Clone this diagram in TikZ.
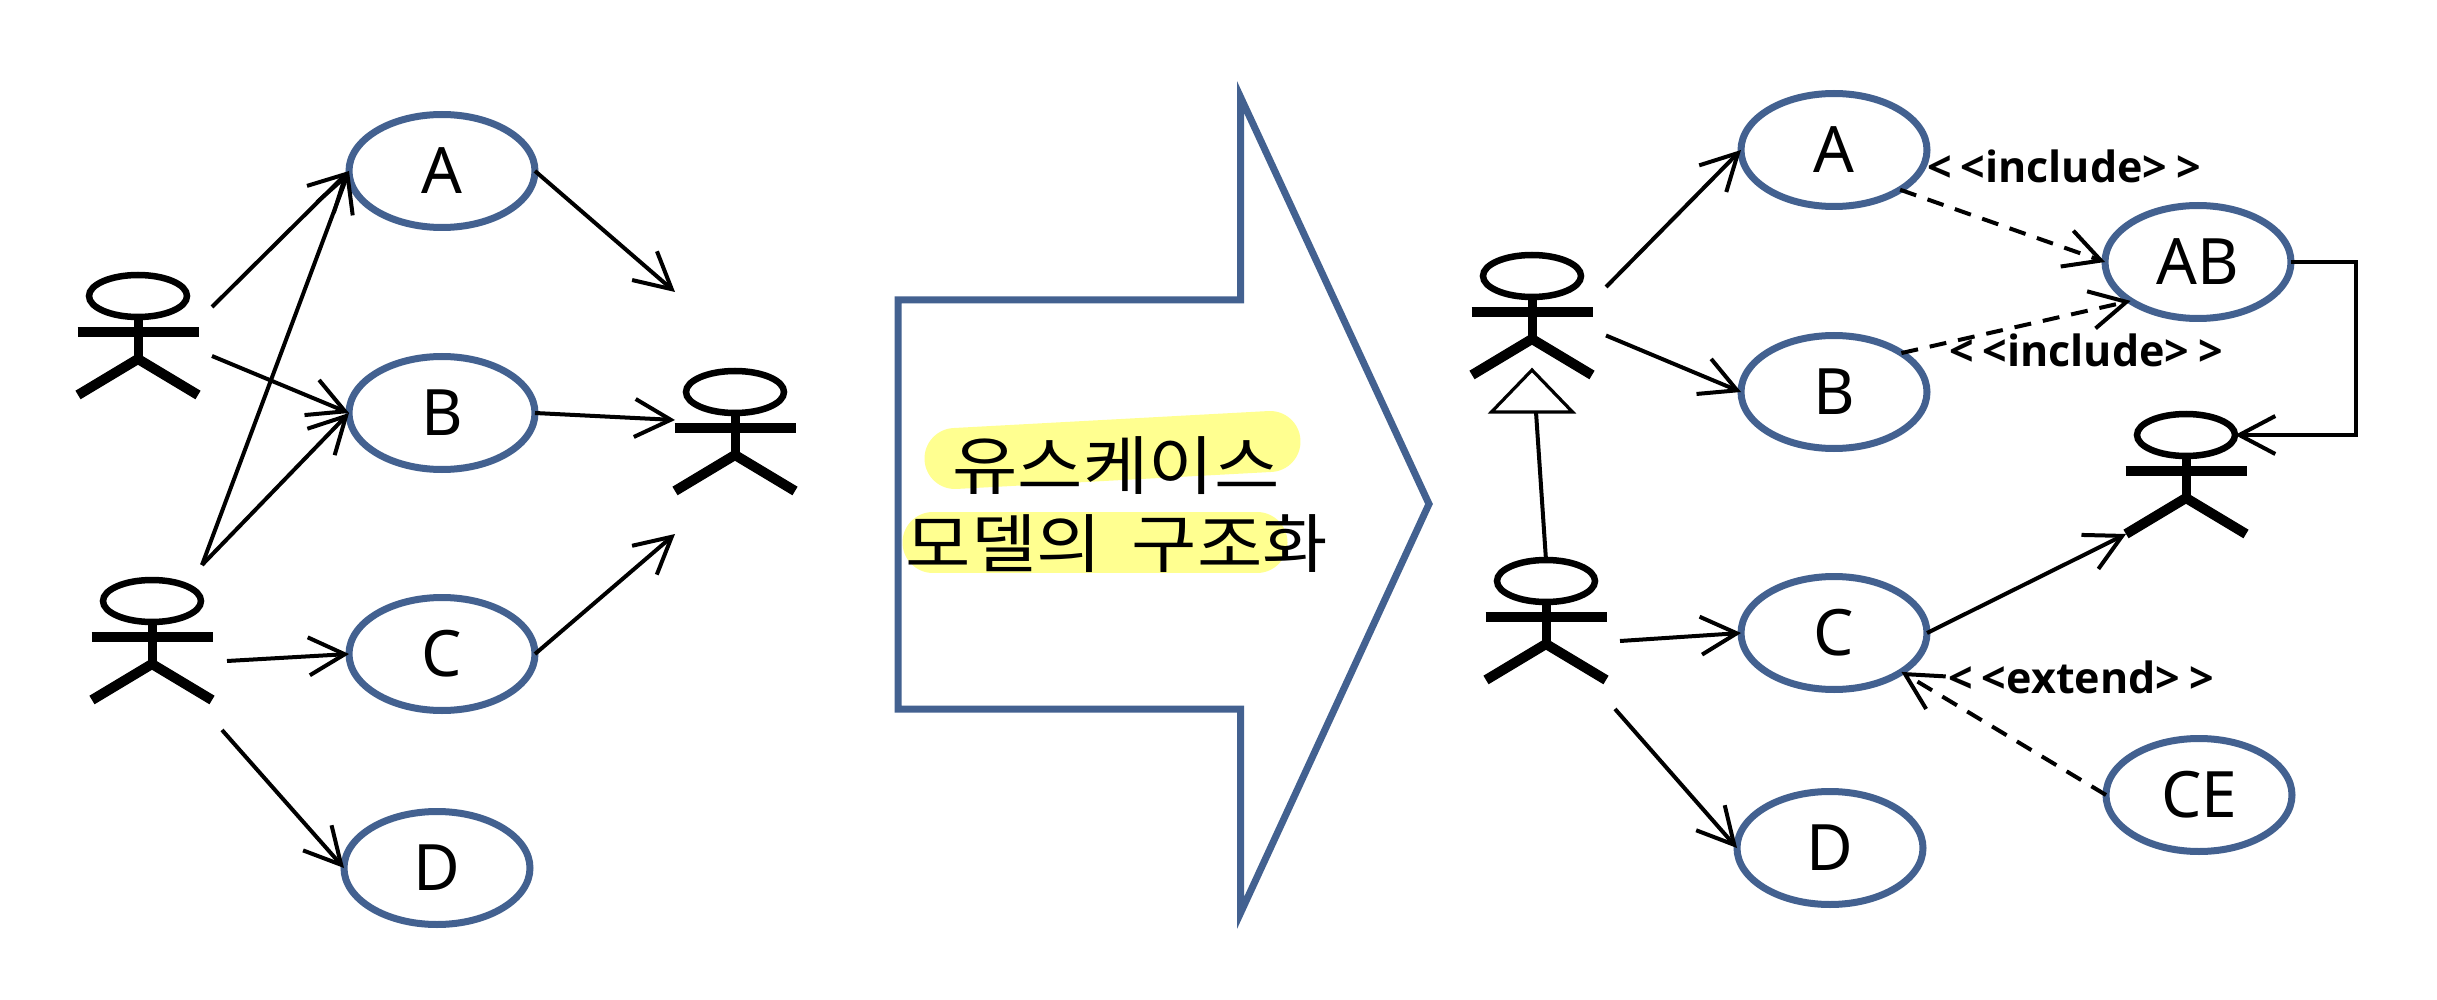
\documentclass[tikz,border=0pt]{standalone}
\usepackage{fontspec}
\usetikzlibrary{arrows.meta,shapes.geometric}
\setmainfont{Noto Sans}
\newfontfamily\krfont[FakeStretch=1.11]{Noto Sans CJK KR}
\newfontfamily\stereofont{Open Sans}
\definecolor{ublue}{HTML}{436190}
\definecolor{hilite}{HTML}{FFFF90}
\tikzset{
  usecase/.style={ellipse,draw=ublue,line width=7pt,minimum width=186pt,minimum height=113pt,inner sep=0pt,outer sep=0pt,font=\fontsize{64}{64}\selectfont},
  actorhead/.style={ellipse,draw=black,line width=6.5pt,minimum width=98pt,minimum height=42pt,inner sep=0pt,outer sep=0pt},
  actorbody/.style={draw=black,line width=9pt},
  actorarm/.style={draw=black,line width=10pt},
  actorleg/.style={draw=black,line width=10pt,line join=miter},
  assoc/.style={draw=black,line width=4pt,-{Straight Barb[length=36pt,width=38pt,line width=4pt]}},
  depend/.style={assoc,dash pattern=on 17pt off 12pt},
  stereo/.style={font=\fontsize{43}{43}\stereofont\bfseries,inner sep=0pt},
  blockarrow/.style={draw=ublue,line width=7pt,fill=white,line join=miter,miter limit=20},
  marker/.style={draw=hilite,line width=61pt,line cap=round},
  krtext/.style={font=\fontsize{64}{64}\krfont,inner sep=0pt},
}
\newcommand{\actorfig}[3]{%
  \begin{scope}[shift={(#2,#3)}]
    \node[actorhead] (#1) at (0,0) {};
    \coordinate (#1-waist) at (0,63);
    \coordinate (#1-neck) at (0,36);
    \coordinate (#1-armL) at (-60.5,36);
    \coordinate (#1-armR) at (60.5,36);
    \coordinate (#1-legL) at (-60,99);
    \coordinate (#1-legR) at (60,99);
    \path[actorbody] (#1.south) -- (#1-waist);
    \path[actorarm] (#1-armL) -- (#1-armR);
    \path[actorleg] (#1-legL) -- (#1-waist) -- (#1-legR);
  \end{scope}}
\begin{document}
\begin{tikzpicture}[x=1pt,y=-1pt]
\useasboundingbox (0,0) rectangle (2437,1000);
% block arrow
\coordinate (ba1) at (898,300);
\coordinate (ba2) at (1240.5,300);
\coordinate (ba3) at (1240.5,97);
\coordinate (ba4) at (1429,504);
\coordinate (ba5) at (1240.5,913);
\coordinate (ba6) at (1240.5,709);
\coordinate (ba7) at (898,709);
\path[blockarrow] (ba1) -- (ba2) -- (ba3) -- (ba4) -- (ba5) -- (ba6) -- (ba7) -- cycle;
\coordinate (m1a) at (955,458.5);
\coordinate (m1b) at (1270,441.5);
\coordinate (m2a) at (933,542.5);
\coordinate (m2b) at (1257,542.5);
\path[marker] (m1a) -- (m1b);
\path[marker] (m2a) -- (m2b);
\node[krtext] (t1) at (1116,466) {유스케이스};
\node[krtext] (t2) at (1117,544) {모델의\kern14pt{} 구조화};
% left side
\node[usecase] (LA) at (442,171) {A};
\node[usecase] (LB) at (442,413) {B};
\node[usecase] (LC) at (442,654) {C};
\node[usecase] (LD) at (437,868) {D};
\actorfig{La1}{138}{296}
\actorfig{La2}{152}{601}
\actorfig{La3}{735}{392}
\coordinate (p1) at (212,307);
\coordinate (p2) at (212,356);
\coordinate (p3) at (202,565);
\coordinate (p4) at (227,661);
\coordinate (p5) at (222,730);
\coordinate (q1) at (675,292);
\coordinate (q2) at (675,420);
\coordinate (q3) at (675,534);
\path[assoc] (p1) -- (LA.west);
\path[assoc] (p2) -- (LB.west);
\path[assoc] (p3) -- (LA.west);
\path[assoc] (p3) -- (LB.west);
\path[assoc] (p4) -- (LC.west);
\path[assoc] (p5) -- (LD.west);
\path[assoc] (LA.east) -- (q1);
\path[assoc] (LB.east) -- (q2);
\path[assoc] (LC.east) -- (q3);
% right side
\node[usecase] (RA) at (1834,150) {A};
\node[usecase] (RB) at (1834,392) {B};
\node[usecase] (RC) at (1834,633) {C};
\node[usecase] (RD) at (1830,848) {D};
\node[usecase] (RAB) at (2198,262) {AB};
\node[usecase] (RCE) at (2199,795) {CE};
\actorfig{Ra1}{1532}{276}
\actorfig{Ra2}{1546}{581}
\actorfig{Ra3}{2186}{435}
\node[isosceles triangle,isosceles triangle apex angle=88,shape border rotate=90,draw=black,fill=white,line width=3.2pt,minimum height=42pt,inner sep=0pt,outer sep=0pt,anchor=apex] (gen) at (1532,370) {};
\draw[black,line width=4pt] ([xshift=4pt]gen.south) -- (Ra2.north);
\coordinate (s1) at (1606,287);
\coordinate (s2) at (1606,335.5);
\coordinate (s3) at (1620,641);
\coordinate (s4) at (1615,709);
\coordinate (jog) at (2356,0);
\path[assoc] (s1) -- (RA.west);
\path[assoc] (s2) -- (RB.west);
\path[assoc] (s3) -- (RC.west);
\path[assoc] (s4) -- (RD.west);
\path[depend] (RA.-31) -- (RAB.west);
\path[depend] (RB.30.5) -- (RAB.210);
\path[depend] (RCE.west) -- (RC.-30);
\path[assoc] (RC.east) -- (Ra3-legL);
\path[assoc] (RAB.east) -- (RAB.east -| jog) -- (Ra3.east -| jog) -- (Ra3.east);
\node[stereo] (inc1) at (2064,166) {<\kern9pt<include>\kern9pt>};
\node[stereo] (inc2) at (2086,350) {<\kern9pt<include>\kern9pt>};
\node[stereo] (ext) at (2081,677) {<\kern9pt<extend>\kern9pt>};
\end{tikzpicture}
\end{document}
